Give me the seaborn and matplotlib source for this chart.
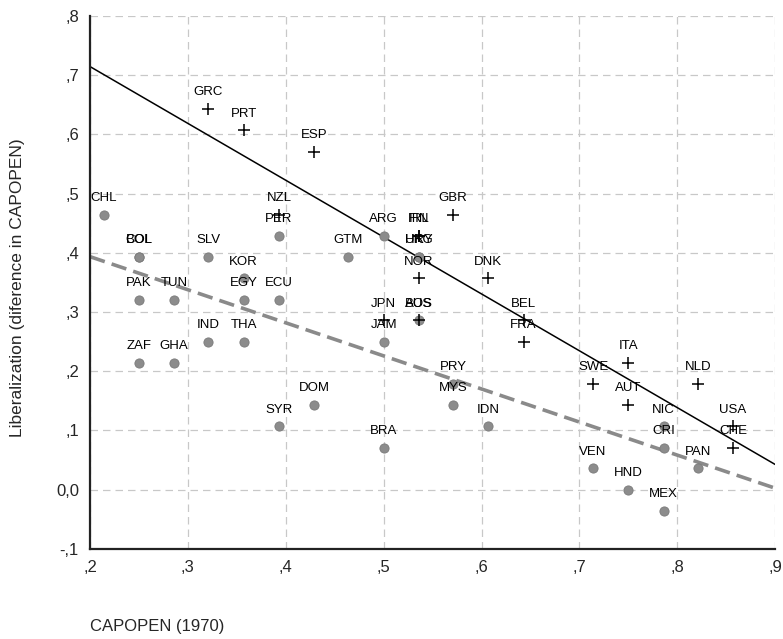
import numpy as np
import pandas as pd
import seaborn as sns
import matplotlib.pyplot as plt
from matplotlib.ticker import FuncFormatter

# country codes, CAPOPEN 1970 and liberalization (change in CAPOPEN)
dev_names = ["GRC", "PRT", "ESP", "NZL", "GBR", "FIN", "IRL", "NOR", "DNK", "JPN",
             "AUS", "BEL", "FRA", "ITA", "SWE", "AUT", "NLD", "USA", "CHE"]
dev_capopen = [0.321, 0.357, 0.429, 0.393, 0.571, 0.536, 0.536, 0.536, 0.607, 0.500,
               0.536, 0.643, 0.643, 0.750, 0.714, 0.750, 0.821, 0.857, 0.857]
dev_liberal = [0.643, 0.607, 0.571, 0.464, 0.464, 0.429, 0.429, 0.357, 0.357, 0.286,
               0.286, 0.286, 0.250, 0.214, 0.179, 0.143, 0.179, 0.107, 0.071]

ldc_names = ["CHL", "COL", "BOL", "PAK", "ZAF", "TUN", "GHA", "SLV", "IND", "KOR",
             "EGY", "THA", "PER", "ECU", "SYR", "DOM", "GTM", "ARG", "JAM", "BRA",
             "URY", "HKG", "BOS", "PRY", "MYS", "IDN", "VEN", "HND", "NIC", "CRI",
             "MEX", "PAN"]
ldc_capopen = [0.214, 0.250, 0.250, 0.250, 0.250, 0.286, 0.286, 0.321, 0.321, 0.357,
               0.357, 0.357, 0.393, 0.393, 0.393, 0.429, 0.464, 0.500, 0.500, 0.500,
               0.536, 0.536, 0.536, 0.571, 0.571, 0.607, 0.714, 0.750, 0.786, 0.786,
               0.786, 0.821]
ldc_liberal = [0.464, 0.393, 0.393, 0.321, 0.214, 0.321, 0.214, 0.393, 0.250, 0.357,
               0.321, 0.250, 0.429, 0.321, 0.107, 0.143, 0.393, 0.429, 0.250, 0.071,
               0.393, 0.393, 0.286, 0.179, 0.143, 0.107, 0.036, 0.000, 0.107, 0.071,
               -0.036, 0.036]

x_ticks = [0.2, 0.3, 0.4, 0.5, 0.6, 0.7, 0.8, 0.9]
y_ticks = [-0.1, 0.0, 0.1, 0.2, 0.3, 0.4, 0.5, 0.6, 0.7, 0.8]

dev = pd.DataFrame({"name": dev_names, "capopen": dev_capopen, "liberal": dev_liberal})
ldc = pd.DataFrame({"name": ldc_names, "capopen": ldc_capopen, "liberal": ldc_liberal})

sns.set_style("white")
plt.rcParams['font.family'] = ['Liberation Sans', 'DejaVu Sans']

fig = plt.figure(figsize=(7.83, 6.39), dpi=100)
ax = fig.add_axes([0.115, 0.141, 0.875, 0.834])
ax.set_xlim(0.2, 0.9)
ax.set_ylim(-0.1, 0.8)

# regression lines, spanning the whole x range
sns.regplot(data=dev, x="capopen", y="liberal", ax=ax, ci=None, truncate=False,
            scatter=False, line_kws={"color": "black", "lw": 1.1})
sns.regplot(data=ldc, x="capopen", y="liberal", ax=ax, ci=None, truncate=False,
            scatter=False, line_kws={"color": "#8a8a8a", "lw": 2.6, "dashes": (4.3, 2)})

sns.scatterplot(data=ldc, x="capopen", y="liberal", ax=ax, color="#8c8c8c",
                edgecolor="#7a7a7a", s=44, linewidth=0.6, zorder=3)
sns.scatterplot(data=dev, x="capopen", y="liberal", ax=ax, marker="+", color="black",
                s=80, linewidth=1.1, zorder=4)

for df in (ldc, dev):
    for _, r in df.iterrows():
        ax.annotate(r["name"], (r["capopen"], r["liberal"]), xytext=(0, 12),
                    textcoords="offset points", ha="center", va="center",
                    fontsize=9.5, color="black")

ax.set_xlim(0.2, 0.9)
ax.set_ylim(-0.1, 0.8)
ax.set_xticks(x_ticks)
ax.set_yticks(y_ticks)


def fmt(v, pos):
    s = f"{v:.1f}".replace(".", ",")
    if abs(v) < 1e-9:
        return "0,0"
    return s.replace("0,", ",")


ax.xaxis.set_major_formatter(FuncFormatter(fmt))
ax.yaxis.set_major_formatter(FuncFormatter(fmt))
ax.tick_params(length=0, labelsize=12, pad=8)

ax.grid(True, color="#c8c8c8", linestyle=(0, (6, 4)), linewidth=0.9)
ax.set_axisbelow(True)
for side in ["top", "right"]:
    ax.spines[side].set_visible(False)
for side in ["left", "bottom"]:
    ax.spines[side].set_color("#222222")
    ax.spines[side].set_linewidth(1.6)

ax.set_xlabel("")
ax.set_ylabel("Liberalization (diference in CAPOPEN)", fontsize=12.5)
ax.yaxis.set_label_coords(-0.095, 0.49)
fig.text(0.115, 1 - 627 / 639, "CAPOPEN (1970)", fontsize=12, ha="left", va="center")

fig.savefig("out.png", dpi=100)
